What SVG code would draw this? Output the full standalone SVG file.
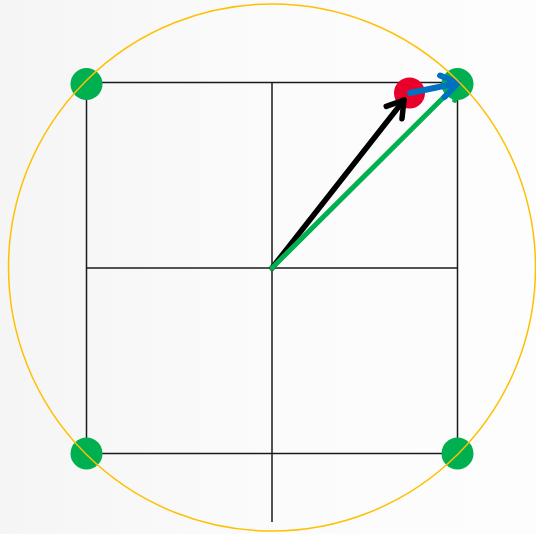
<svg xmlns="http://www.w3.org/2000/svg" width="536" height="534" viewBox="0 0 536 534">
  <defs>
    <linearGradient id="bg" x1="0" y1="0" x2="1" y2="0">
      <stop offset="0" stop-color="#f5f5f5"/>
      <stop offset="0.5" stop-color="#fbfbfb"/>
      <stop offset="1" stop-color="#fdfdfd"/>
    </linearGradient>
    <marker id="mBlack" markerUnits="userSpaceOnUse" orient="auto" refX="0" refY="0" markerWidth="30" markerHeight="30" overflow="visible">
      <path d="M-16,-10 L0,0 L-16,10" fill="none" stroke="#000" stroke-width="5.5" stroke-linecap="round" stroke-linejoin="round"/>
    </marker>
    <marker id="mGreen" markerUnits="userSpaceOnUse" orient="auto" refX="0" refY="0" markerWidth="30" markerHeight="30" overflow="visible">
      <path d="M-16,-10 L0,0 L-16,10" fill="none" stroke="#00b050" stroke-width="5" stroke-linecap="round" stroke-linejoin="round"/>
    </marker>
    <marker id="mBlue" markerUnits="userSpaceOnUse" orient="auto" refX="0" refY="0" markerWidth="30" markerHeight="30" overflow="visible">
      <path d="M-16,-11 L0,0 L-16,11" fill="none" stroke="#0070c0" stroke-width="6" stroke-linecap="round" stroke-linejoin="round"/>
    </marker>
    <style>
      .grid { stroke: #1a1a1a; stroke-width: 1.5; fill: none; }
      .corner { fill: #00b050; }
      .point { fill: #e8002a; }
      .ring { fill: none; stroke: #ffc000; stroke-width: 1.5; }
    </style>
  </defs>
  <rect x="0" y="0" width="536" height="534" fill="url(#bg)"/>
  <g id="grid">
    <rect class="grid" x="86.5" y="82.5" width="371" height="371"/>
    <line class="grid" x1="272" y1="82.5" x2="272" y2="522"/>
    <line class="grid" x1="86.5" y1="268" x2="457.5" y2="268"/>
  </g>
  <g id="corner-tl"><circle class="corner" cx="86.5" cy="84" r="16"/></g>
  <g id="corner-tr"><circle class="corner" cx="457.5" cy="84" r="16"/></g>
  <g id="corner-bl"><circle class="corner" cx="86.5" cy="453.5" r="16"/></g>
  <g id="corner-br"><circle class="corner" cx="457.5" cy="453.5" r="16"/></g>
  <g id="point-red"><circle class="point" cx="409.5" cy="93" r="15.5"/></g>
  <g id="connectors" fill="none" stroke-linecap="round">
    <line x1="272" y1="268" x2="404" y2="100" stroke="#000" stroke-width="5.5" marker-end="url(#mBlack)"/>
    <line x1="272" y1="268" x2="459" y2="82" stroke="#00b050" stroke-width="5" marker-end="url(#mGreen)"/>
    <line x1="410" y1="93" x2="458" y2="83" stroke="#0070c0" stroke-width="6" marker-end="url(#mBlue)"/>
  </g>
  <g id="ring"><circle class="ring" cx="272" cy="267.5" r="263.5"/></g>
</svg>
